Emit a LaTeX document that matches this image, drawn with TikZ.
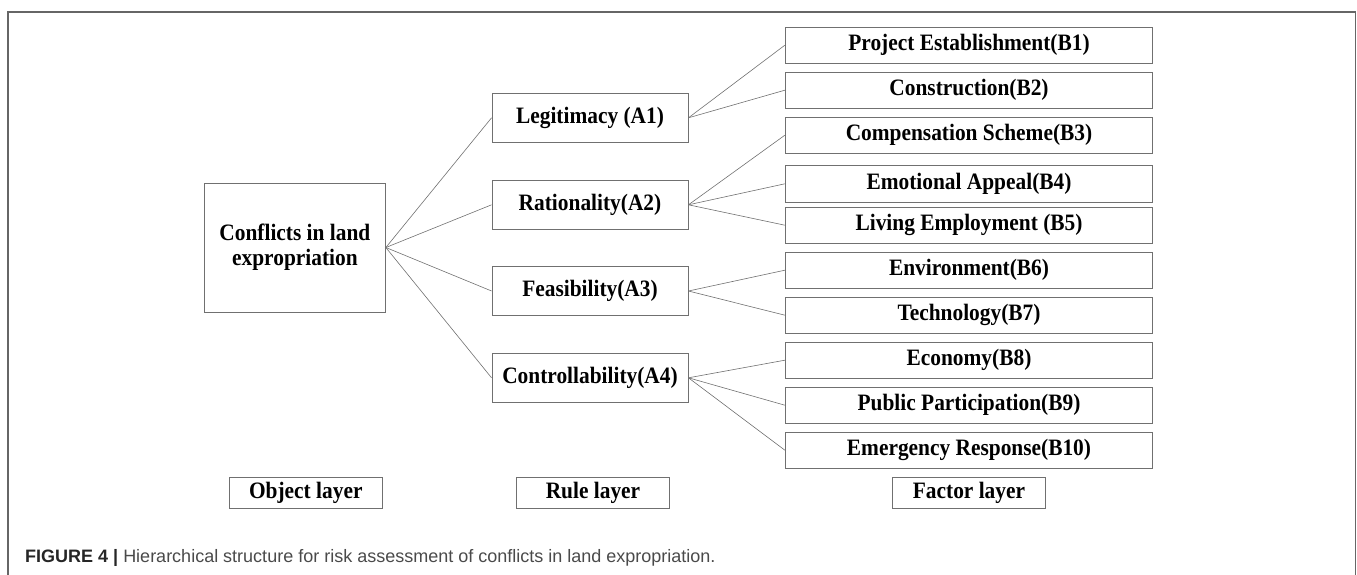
\documentclass[tikz,border=0pt]{standalone}
\usepackage{fontspec}
\setmainfont{Liberation Serif}[FakeStretch=0.91]
\newfontfamily\capfont{Liberation Sans}
\definecolor{framegray}{HTML}{666666}
\definecolor{boxgray}{HTML}{707070}
\definecolor{capgray}{HTML}{4A4A4A}
\begin{document}
\begin{tikzpicture}[x=1pt,y=-1pt,
  every node/.style={font=\fontsize{23.5}{25}\selectfont\bfseries, inner sep=0pt},
  box/.style={draw=boxgray, line width=0.9pt, minimum height=36.3pt, minimum width=367.4pt},
  rulebox/.style={draw=boxgray, line width=0.9pt, minimum height=49pt, minimum width=196pt},
  layerbox/.style={draw=boxgray, line width=0.9pt, minimum height=30.7pt, minimum width=153.4pt},
  link/.style={draw=boxgray, line width=0.6pt}]
\useasboundingbox (0,0) rectangle (1357,575);
\draw[framegray, line width=1.3pt] (8,575) -- (8,12) -- (1355.5,12) -- (1355.5,575);

\node[draw=boxgray, line width=0.9pt, minimum width=181pt, minimum height=129pt, align=center] (obj) at (294.9,247.5) {Conflicts in land\\expropriation};

\node[rulebox] (a1) at (590,117.8) {Legitimacy (A1)};
\node[rulebox] (a2) at (590,204.8) {Rationality(A2)};
\node[rulebox] (a3) at (590,291) {Feasibility(A3)};
\node[rulebox] (a4) at (590,377.8) {Controllability(A4)};

\node[box] (b1) at (969,45.2) {Project Establishment(B1)};
\node[box] (b2) at (969,90.2) {Construction(B2)};
\node[box] (b3) at (969,135.2) {Compensation Scheme(B3)};
\node[box] (b4) at (969,183.8) {Emotional Appeal(B4)};
\node[box] (b5) at (969,225.2) {Living Employment (B5)};
\node[box] (b6) at (969,270.2) {Environment(B6)};
\node[box] (b7) at (969,315.2) {Technology(B7)};
\node[box] (b8) at (969,360.2) {Economy(B8)};
\node[box] (b9) at (969,405.2) {Public Participation(B9)};
\node[box] (b10) at (969,450.2) {Emergency Response(B10)};

\node[layerbox] (lo) at (305.8,492.7) {Object layer};
\node[layerbox] (lr) at (593,492.7) {Rule layer};
\node[layerbox] (lf) at (969,492.7) {Factor layer};

\foreach \a in {a1,a2,a3,a4} \draw[link] (obj.east) -- (\a.west);
\foreach \b in {b1,b2} \draw[link] (a1.east) -- (\b.west);
\foreach \b in {b3,b4,b5} \draw[link] (a2.east) -- (\b.west);
\foreach \b in {b6,b7} \draw[link] (a3.east) -- (\b.west);
\foreach \b in {b8,b9,b10} \draw[link] (a4.east) -- (\b.west);

\node[anchor=base west, font=\capfont\fontsize{18}{20}\selectfont, text=capgray] (cap) at (25,562.3)
  {\textbf{\color{black!85}FIGURE 4 |} Hierarchical structure for risk assessment of conflicts in land expropriation.};
\end{tikzpicture}
\end{document}
